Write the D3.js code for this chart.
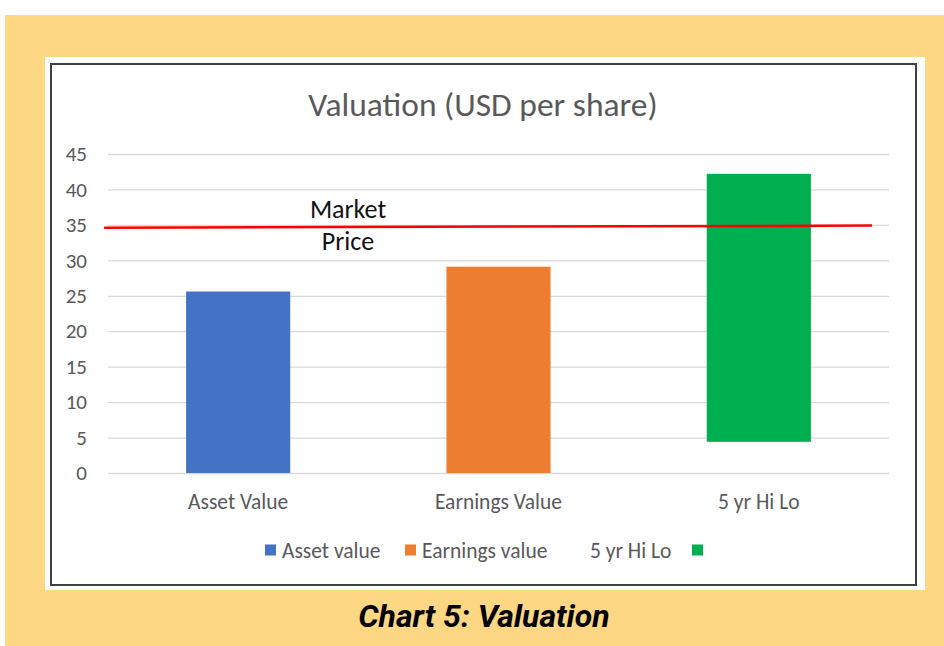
<!DOCTYPE html>
<html><head><meta charset="utf-8">
<script src="https://cdn.jsdelivr.net/npm/d3@7"></script>
<style>html,body{margin:0;padding:0;background:#fff;}svg{display:block;}</style>
</head><body>
<script>
const categories = ["Asset Value", "Earnings Value", "5 yr Hi Lo"];
const barLow = [0, 0, 4.4];
const barHigh = [25.6, 29.1, 42.2];
const barColors = ["#4472C4", "#ED7D31", "#00B050"];
const yTicks = [0, 5, 10, 15, 20, 25, 30, 35, 40, 45];
const marketPos = [-0.515, 2.435];   // category-index positions of line ends
const marketVal = [34.6, 34.9];
const legendLabels = ["Asset value", "Earnings value", "5 yr Hi Lo"];
const title = "Valuation (USD per share)";
const caption = "Chart 5: Valuation";

(function () {
const W = 944, H = 646;
const svg = d3.select("body").append("svg").attr("width", W).attr("height", H);
const font = "Calibri, Carlito, 'Open Sans', sans-serif";

svg.append("rect").attr("x", 5).attr("y", 15).attr("width", W - 5).attr("height", H - 15).attr("fill", "#FDD783");
svg.append("rect").attr("x", 45).attr("y", 57).attr("width", 880).attr("height", 533).attr("fill", "#fff");
svg.append("rect").attr("x", 51).attr("y", 64).attr("width", 865).attr("height", 521)
  .attr("fill", "#fff").attr("stroke", "#404040").attr("stroke-width", 2);

const pL = 108, pR = 889, pT = 154, pB = 473;
const y = d3.scaleLinear().domain([0, 45]).range([pB, pT]);
const x = d3.scaleBand().domain(categories).range([pL, pR]).paddingInner(0.6).paddingOuter(0.3);
const xl = d3.scaleLinear().domain([-0.5, 2.5]).range([pL, pR]);

const yAxis = d3.axisLeft(y).tickValues(yTicks).tickSize(-(pR - pL)).tickPadding(21);
const ga = svg.append("g").attr("transform", `translate(${pL},0)`).call(yAxis);
ga.select(".domain").remove();
ga.selectAll(".tick line").attr("stroke", "#D9D9D9").attr("stroke-width", 1.3);
ga.selectAll(".tick text").attr("fill", "#595959").style("font-family", font).style("font-size", "21px");

svg.append("g").selectAll("rect").data(categories).join("rect")
  .attr("x", d => x(d)).attr("width", x.bandwidth())
  .attr("y", (d, i) => y(barHigh[i]))
  .attr("height", (d, i) => y(barLow[i]) - y(barHigh[i]))
  .attr("fill", (d, i) => barColors[i]);

svg.append("g").selectAll("text").data(categories).join("text")
  .attr("x", d => x(d) + x.bandwidth() / 2).attr("y", 501).attr("dy", "0.35em")
  .attr("text-anchor", "middle").attr("fill", "#595959")
  .style("font-family", font).style("font-size", "21.5px").text(d => d);

const line = d3.line().x(d => xl(d[0])).y(d => y(d[1]));
svg.append("path").datum(marketPos.map((p, i) => [p, marketVal[i]]))
  .attr("d", line).attr("stroke", "#FF0000").attr("stroke-width", 2.5).attr("fill", "none");
svg.append("text").attr("x", 348).attr("y", 209).attr("dy", "0.35em").attr("text-anchor", "middle")
  .style("font-family", font).style("font-size", "26px").attr("fill", "#111").text("Market");
svg.append("text").attr("x", 348).attr("y", 241).attr("dy", "0.35em").attr("text-anchor", "middle")
  .style("font-family", font).style("font-size", "26px").attr("fill", "#111").text("Price");

svg.append("text").attr("x", 483).attr("y", 104).attr("dy", "0.35em").attr("text-anchor", "middle")
  .attr("fill", "#595959").style("font-family", font).style("font-size", "33.5px").text(title);

const lg = svg.append("g");
const ly = 550;
const lgItems = [
  {sq: 265, tx: 282},
  {sq: 405, tx: 422},
  {sq: 692, tx: 590}
];
lgItems.forEach((it, i) => {
  lg.append("rect").attr("x", it.sq).attr("y", ly - 5.5).attr("width", 11).attr("height", 11).attr("fill", barColors[i]);
  lg.append("text").attr("x", it.tx).attr("y", ly).attr("dy", "0.35em").attr("fill", "#595959")
    .style("font-family", font).style("font-size", "21.5px").text(legendLabels[i]);
});

svg.append("text").attr("x", 484).attr("y", 627).attr("text-anchor", "middle")
  .style("font-family", "Roboto, sans-serif").style("font-weight", "bold").style("font-style", "italic")
  .style("font-size", "32px").attr("fill", "#000").text(caption);
})();
</script>
</body></html>
